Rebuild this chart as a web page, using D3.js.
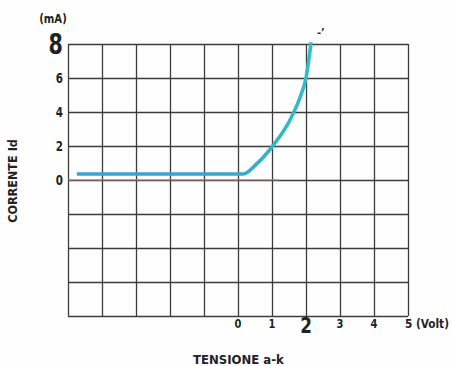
<!DOCTYPE html>
<html>
<head>
<meta charset="utf-8">
<script src="https://cdn.jsdelivr.net/npm/d3@7"></script>
<style>
  body { margin: 0; background: #fefefe; }
  svg text { font-family: "Liberation Sans Narrow", "DejaVu Sans Condensed", "Arial Narrow", sans-serif; font-weight: bold; fill: #222; }
</style>
</head>
<body>
<div id="chart"></div>
<script>
// diode curve
const voltage = [-4.74, 0.15, 0.54, 1.0, 1.56, 1.85, 2.0, 2.15];
const current = [0.35, 0.35, 0.93, 1.95, 3.65, 5.0, 6.0, 8.1];

const xTicks = [0, 1, 2, 3, 4, 5];
const yTicks = [0, 2, 4, 6, 8];

document.addEventListener("DOMContentLoaded", () => {
    let width = 453, height = 366;

    let svg = d3.select("#chart")
        .append("svg")
        .attr("width", width)
        .attr("height", height);

    let x = d3.scaleLinear().domain([-5, 5]).range([68, 408]);
    let y = d3.scaleLinear().domain([-8, 8]).range([316, 44]);

    // blue on the flat part, teal where it climbs
    let grad = svg.append("defs").append("linearGradient")
        .attr("id", "curveColor")
        .attr("gradientUnits", "userSpaceOnUse")
        .attr("x1", x(-5)).attr("x2", x(2.2))
        .attr("y1", 0).attr("y2", 0);
    grad.append("stop").attr("offset", "0%").attr("stop-color", "#3a9fd8");
    grad.append("stop").attr("offset", "68%").attr("stop-color", "#36a6d2");
    grad.append("stop").attr("offset", "80%").attr("stop-color", "#2fb5c4");
    grad.append("stop").attr("offset", "100%").attr("stop-color", "#33bcc6");

    // grid lines
    let grid = svg.append("g");
    grid.append("g")
        .attr("transform", "translate(0," + y(-8) + ")")
        .call(d3.axisBottom(x).tickValues(d3.range(-5, 6)).tickSize(-(y(-8) - y(8))).tickFormat(""))
        .call(g => g.select(".domain").remove());
    grid.append("g")
        .attr("transform", "translate(" + x(-5) + ",0)")
        .call(d3.axisLeft(y).tickValues(d3.range(-8, 9, 2)).tickSize(-(x(5) - x(-5))).tickFormat(""))
        .call(g => g.select(".domain").remove());
    grid.selectAll("line").attr("stroke", "#3c3c3c").attr("stroke-width", 1.3);

    // faint red line under the flat part
    svg.append("line")
        .attr("x1", x(-5)).attr("x2", x(1.2))
        .attr("y1", y(0)).attr("y2", y(0))
        .attr("stroke", "#b07870").attr("stroke-width", 1.2);

    // y labels
    svg.selectAll(".ylab")
        .data(yTicks)
        .enter()
        .append("text")
        .attr("transform", d => "translate(63," + y(d) + ") scale(0.82,1)")
        .attr("dy", "0.36em")
        .attr("text-anchor", "end")
        .style("font-size", d => d === 8 ? "28px" : "14px")
        .text(d => d);

    svg.append("text")
        .attr("transform", "translate(53,23) scale(0.9,1)")
        .attr("text-anchor", "middle")
        .style("font-size", "12.5px")
        .text("(mA)");

    // x labels
    svg.selectAll(".xlab")
        .data(xTicks)
        .enter()
        .append("text")
        .attr("transform", d => d === 5
            ? "translate(" + (x(d) - 3) + ",328) scale(0.9,1)"
            : "translate(" + x(d) + "," + (d === 2 ? 333 : 328) + ") scale(0.85,1)")
        .attr("text-anchor", d => d === 5 ? "start" : "middle")
        .style("font-size", d => d === 2 ? "22px" : "13px")
        .text(d => d === 5 ? "5 (Volt)" : d);

    svg.append("text")
        .attr("x", 193).attr("y", 364)
        .style("font-size", "13px")
        .text("TENSIONE a-k");

    svg.append("text")
        .attr("transform", "translate(17,181) rotate(-90)")
        .attr("text-anchor", "middle")
        .style("font-size", "12.5px")
        .text("CORRENTE Id");

    // small mark above the curve end
    svg.append("text")
        .attr("x", 317).attr("y", 36)
        .style("font-size", "11px")
        .style("fill", "#333")
        .text("-\u2019");

    // the curve
    let line = d3.line()
        .x((d, i) => x(voltage[i]))
        .y((d, i) => y(current[i]))
        .curve(d3.curveMonotoneX);

    svg.append("path")
        .datum(voltage)
        .attr("d", line)
        .attr("fill", "none")
        .attr("stroke", "url(#curveColor)")
        .attr("stroke-width", 3.6)
        .attr("stroke-linejoin", "round");
});
</script>
</body>
</html>
